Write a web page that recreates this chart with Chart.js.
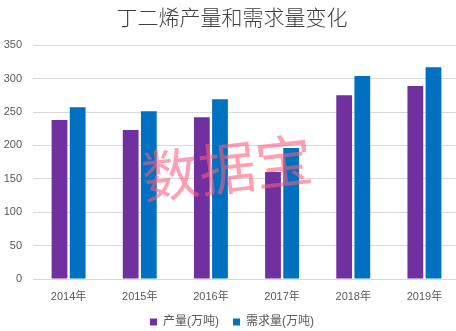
<!DOCTYPE html>
<html>
<head>
<meta charset="utf-8">
<script src="https://cdn.jsdelivr.net/npm/chart.js@4/dist/chart.umd.min.js"></script>
<style>
html,body{margin:0;padding:0;background:#fff;overflow:hidden;}
#wrap{width:470px;height:338px;}
</style>
</head>
<body>
<div id="wrap"><canvas id="c" width="470" height="338"></canvas></div>
<script>
const categories = ["2014年","2015年","2016年","2017年","2018年","2019年"];
const production = [238, 223, 242, 160, 275, 289];
const demand = [257, 251, 269, 196, 304, 317];
const seriesNames = ["产量(万吨)","需求量(万吨)"];
const titleText = "丁二烯产量和需求量变化";
const watermarkText = "数据宝";
const yTicks = [0, 50, 100, 150, 200, 250, 300, 350];

const FONT = "'Liberation Sans','Noto Sans CJK SC',sans-serif";
const TXT = "#595959";

const watermark = {
  id: 'watermark',
  afterDatasetsDraw(chart) {
    const ctx = chart.ctx;
    ctx.save();
    ctx.translate(227, 168);
    ctx.rotate(-6.5 * Math.PI / 180);
    ctx.font = "57px 'Noto Sans CJK SC'";
    ctx.fillStyle = "rgba(255,90,120,0.58)";
    ctx.textAlign = "center";
    ctx.textBaseline = "middle";
    ctx.fillText(watermarkText, 0, 0);
    ctx.restore();
  }
};

new Chart(document.getElementById('c'), {
  type: 'bar',
  data: {
    labels: categories,
    datasets: [
      { label: seriesNames[0], data: production, backgroundColor: '#7030A0', barPercentage: 0.87, categoryPercentage: 0.51 },
      { label: seriesNames[1], data: demand, backgroundColor: '#0070C0', barPercentage: 0.87, categoryPercentage: 0.51 }
    ]
  },
  options: {
    responsive: false,
    animation: false,
    layout: { padding: { left: 4, right: 10, top: 0, bottom: 0 } },
    plugins: {
      title: {
        display: true, text: titleText, color: '#404040',
        font: { family: "'Noto Sans CJK SC'", size: 21, weight: 300 },
        padding: { top: 4, bottom: 16 }
      },
      legend: {
        position: 'bottom',
        labels: {
          color: TXT, boxWidth: 7, boxHeight: 7, padding: 14,
          font: { family: FONT, size: 12 }
        }
      },
      tooltip: { enabled: false }
    },
    scales: {
      x: {
        afterFit(axis) { axis.height = 23; },
        grid: { display: false },
        border: { display: false },
        ticks: { color: TXT, font: { family: FONT, size: 11 }, padding: 3 }
      },
      y: {
        min: 0, max: 350,
        afterFit(axis) { axis.width = 29; },
        afterBuildTicks(axis) { axis.ticks = yTicks.map(v => ({ value: v })); },
        grid: { color: '#D9D9D9', drawTicks: false, lineWidth: 1 },
        border: { display: false },
        ticks: { color: TXT, font: { family: FONT, size: 11 }, padding: 11 }
      }
    }
  },
  plugins: [watermark]
});
</script>
</body>
</html>
